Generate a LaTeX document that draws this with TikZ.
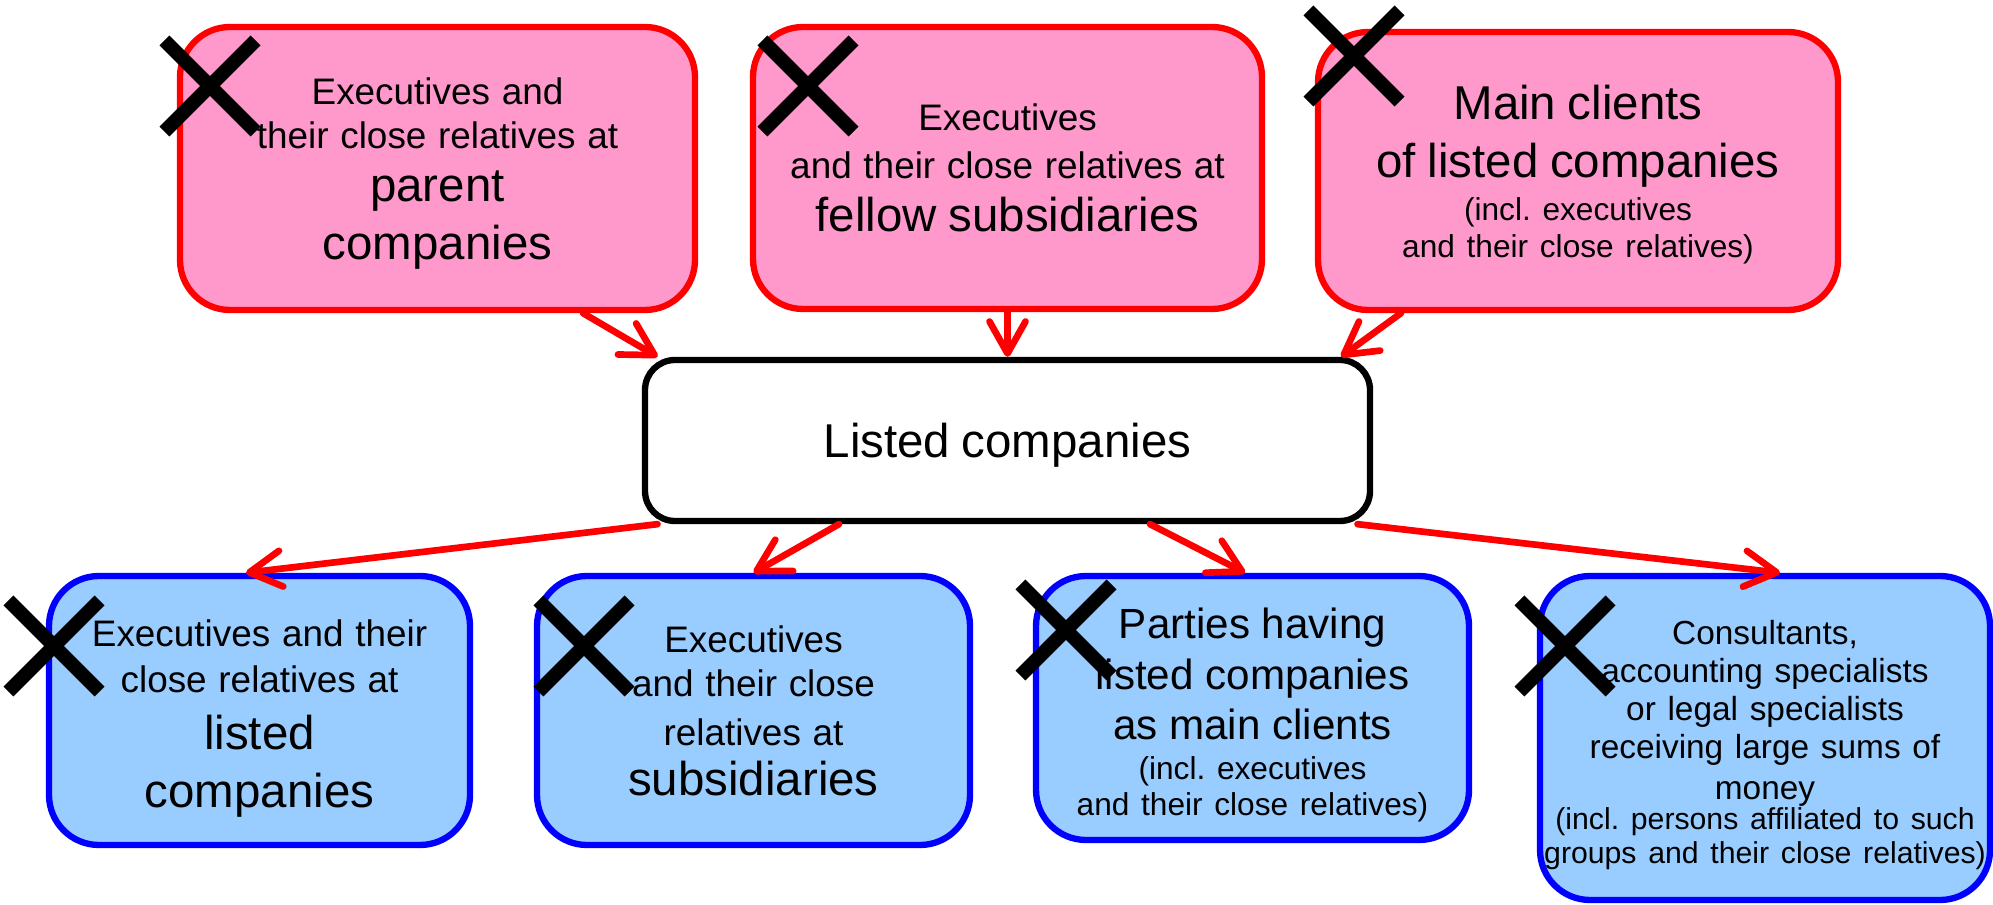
\documentclass[tikz,border=0pt]{standalone}
\usepackage{fontspec}
\setmainfont{Liberation Sans}
\usetikzlibrary{arrows.meta,shapes.misc}

\definecolor{boxred}{RGB}{255,0,0}
\definecolor{boxpink}{RGB}{255,153,204}
\definecolor{boxblue}{RGB}{0,0,255}
\definecolor{paleblue}{RGB}{153,204,255}

\setlength{\parindent}{0pt}
\frenchspacing

% text sizes used in the boxes
\newcommand{\smtext}{\fontsize{10.5}{12.5}\selectfont}
\newcommand{\bgtext}{\fontsize{13.5}{16.5}\selectfont}
\newcommand{\mdtext}{\fontsize{12}{14.4}\selectfont}
\newcommand{\ptext}{\fontsize{9}{10.4}\selectfont}
\newcommand{\cstext}{\fontsize{9.5}{10.8}\selectfont}
\newcommand{\pstext}{\fontsize{8.6}{9.6}\selectfont}
% pulls the text block a little lower in its box
\newcommand{\sinktext}[1]{\par\vskip-#1\kern0pt}

\begin{document}
\begin{tikzpicture}[
  box/.style={rounded corners=0.5cm, line width=1.8pt, inner sep=0pt, align=center},
  upper/.style={box, draw=boxred, fill=boxpink},
  lower/.style={box, draw=boxblue, fill=paleblue},
  link/.style={draw=boxred, line width=1.9pt, line cap=round,
    -{Straight Barb[length=3.2mm,width=3.6mm,round]}},
  nomark/.style={cross out, draw=black, line width=4pt, minimum size=0.77cm, inner sep=0pt}
]
 \useasboundingbox (0,0) rectangle (19.93,9.04);

 % upper row
 \node[upper, text width=5.15cm, minimum height=2.83cm] (par) at (4.375,7.355)
   {\smtext Executives and\\their close relatives at\par\vspace{-1.6pt}
    \bgtext parent\\companies\sinktext{2.9pt}};
 \node[upper, text width=5.09cm, minimum height=2.82cm] (fel) at (10.075,7.36)
   {\smtext Executives\\[1pt]and their close relatives at\par\vspace{-1.3pt}
    \bgtext fellow subsidiaries\par};
 \node[upper, text width=5.2cm, minimum height=2.78cm] (cli) at (15.78,7.33)
   {\bgtext Main clients\\of listed companies\par\vspace{1.8pt}
    \ptext (incl. executives\\and their close relatives)\sinktext{2pt}};

 % centre
 \node[box, draw=black, fill=white, rounded corners=0.3cm, text width=7.25cm,
   minimum height=1.61cm] (lst) at (10.075,4.635) {\bgtext Listed companies\sinktext{3.6pt}};

 % lower row
 \node[lower, text width=4.21cm, minimum height=2.69cm] (lco) at (2.595,1.935)
   {\smtext Executives and their\\[0.7pt]close relatives at\par\vspace{-0.3pt}
    \bgtext listed\\companies\sinktext{4.7pt}};
 \node[lower, text width=4.33cm, minimum height=2.69cm] (sub) at (7.535,1.935)
   {\smtext Executives\\and their close\\[1.5pt]relatives at\par\vspace{-2.3pt}
    \bgtext subsidiaries\par};
 \node[lower, text width=4.33cm, minimum height=2.64cm] (prt) at (12.525,1.96)
   {\mdtext Parties having\\listed companies\\as main clients\par\vspace{0.8pt}
    \ptext (incl. executives\\and their close relatives)\sinktext{4pt}};
 \node[lower, text width=4.5cm, minimum height=3.24cm] (con) at (17.65,1.66)
   {\cstext Consultants,\\accounting specialists\\or legal specialists\\receiving large sums of\\[0.7pt]money\par
    \vspace{-1pt}\pstext (incl. persons affiliated to such\\groups and their close relatives)\sinktext{4pt}};

 % arrows
 \draw[link] ([xshift=1.455cm]par.south) -- ([xshift=-3.5cm]lst.north);
 \draw[link] (fel.south) -- (lst.north);
 \draw[link] ([xshift=-1.77cm]cli.south) -- ([xshift=3.335cm]lst.north);
 \draw[link] ([xshift=-3.5cm]lst.south) -- ([xshift=-0.135cm]lco.north);
 \draw[link] ([xshift=-1.685cm]lst.south) -- (sub.north);
 \draw[link] ([xshift=1.425cm]lst.south) -- ([xshift=-0.075cm]prt.north);
 \draw[link] ([xshift=3.5cm]lst.south) -- ([xshift=0.15cm]con.north);

 % crosses
 \foreach \p [count=\i] in {(2.10,8.18),(8.08,8.18),(13.54,8.48),(0.54,2.58),(5.84,2.58),(10.66,2.74),(15.65,2.58)}
   \node[nomark] (x\i) at \p {};
\end{tikzpicture}
\end{document}
